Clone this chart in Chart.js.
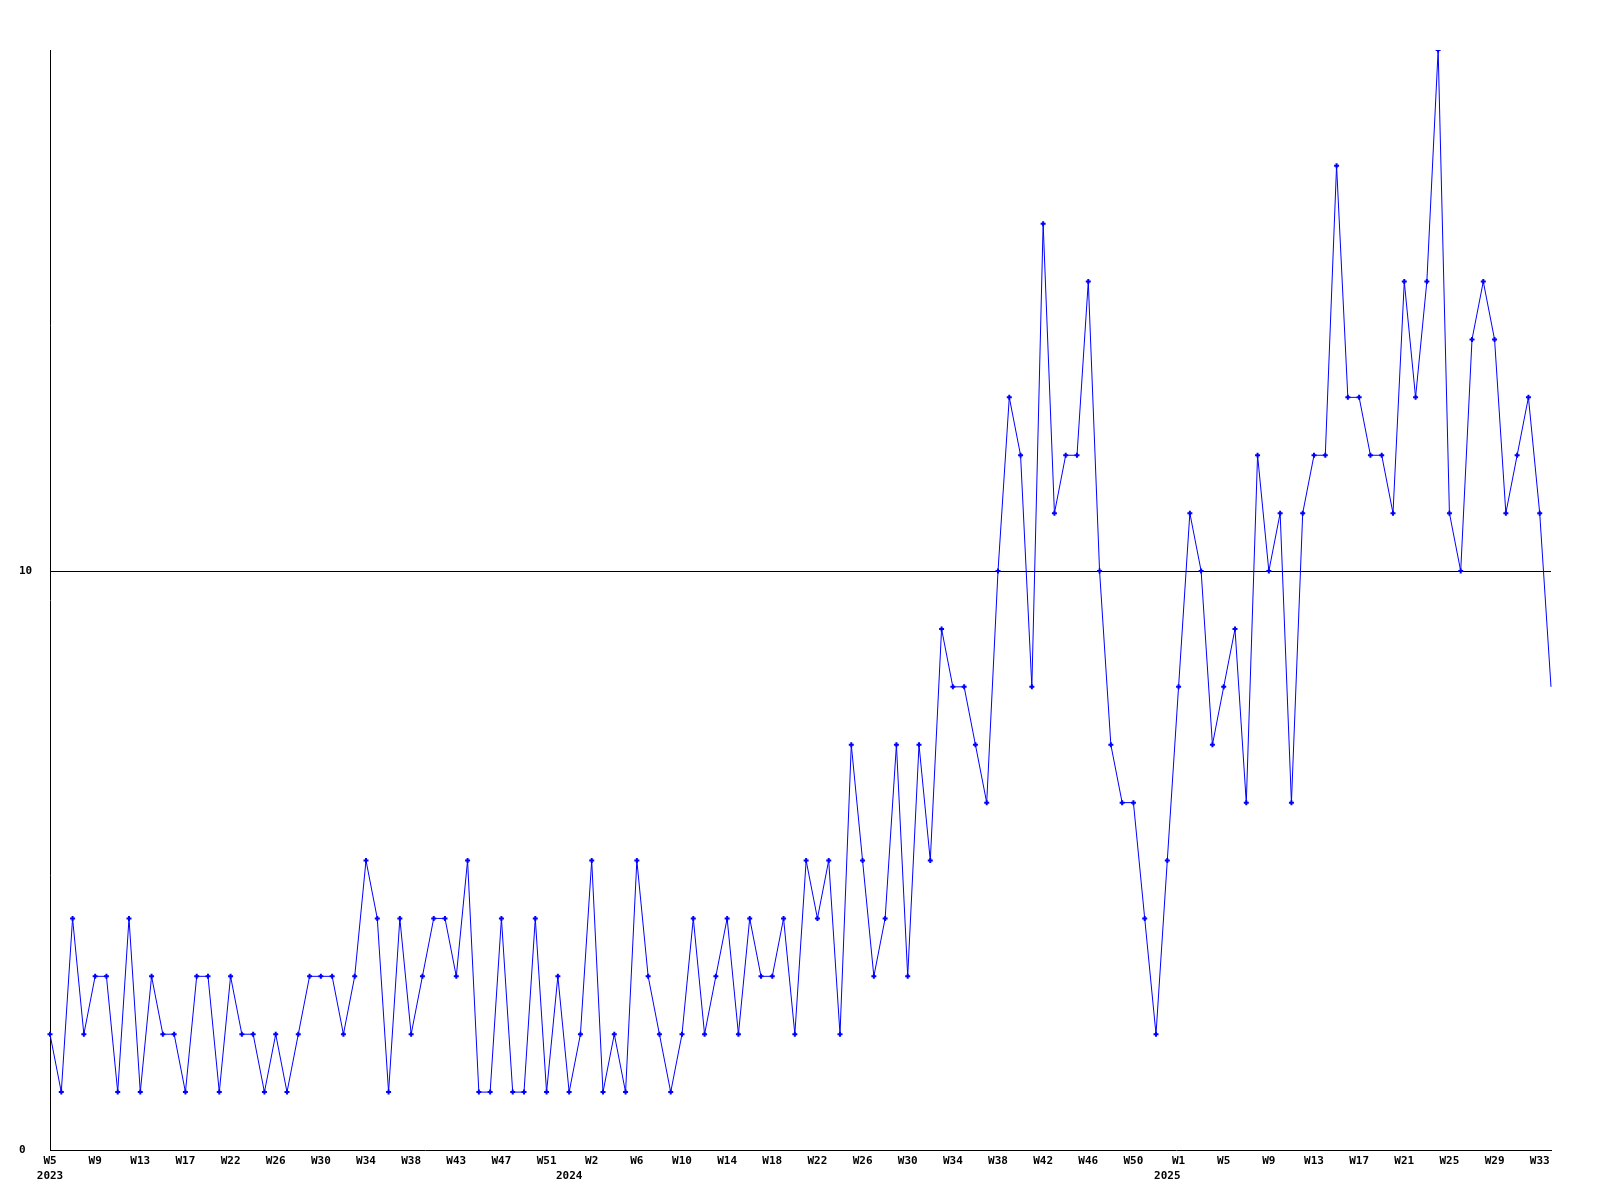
<!DOCTYPE html>
<html>
<head>
<meta charset="utf-8">
<script src="https://cdn.jsdelivr.net/npm/chart.js@4.4.1/dist/chart.umd.min.js"></script>
<style>
  html, body { margin: 0; padding: 0; background: #ffffff; }
  #wrap { width: 1600px; height: 1200px; }
</style>
</head>
<body>
<div id="wrap"><canvas id="c" width="1600" height="1200"></canvas></div>
<script>
// ---- data ----
const values = [
  2,1,4,2,3,3,1,4,1,3,
  2,2,1,3,3,1,3,2,2,1,
  2,1,2,3,3,3,2,3,5,4,
  1,4,2,3,4,4,3,5,1,1,
  4,1,1,4,1,3,1,2,5,1,
  2,1,5,3,2,1,2,4,2,3,
  4,2,4,3,3,4,2,5,4,5,
  2,7,5,3,4,7,3,7,5,9,
  8,8,7,6,10,13,12,8,16,11,
  12,12,15,10,7,6,6,4,2,5,
  8,11,10,7,8,9,6,12,10,11,
  6,11,12,12,17,13,13,12,12,11,
  15,13,15,19,11,10,14,15,14,11,
  12,13,11,8
];

// week tick labels, one every 4 weekly points
const weekTicks = [
  'W5','W9','W13','W17','W22','W26','W30','W34','W38','W43','W47','W51',
  'W2','W6','W10','W14','W18','W22','W26','W30','W34','W38','W42','W46','W50',
  'W1','W5','W9','W13','W17','W21','W25','W29','W33'
];
// year labels and the point index where each year starts
const years = ['2023', '2024', '2025'];
const yearStart = [0, 46, 99];

const categories = values.map((v, i) => {
  const week = (i % 4 === 0 && weekTicks[i / 4]) ? weekTicks[i / 4] : '';
  const yi = yearStart.indexOf(i);
  return yi >= 0 ? [week, years[yi]] : week;
});

const tickFont = { family: '"DejaVu Sans Mono", "Liberation Mono", monospace', size: 11, weight: 'bold', lineHeight: '15px' };

new Chart(document.getElementById('c'), {
  type: 'line',
  data: {
    labels: categories,
    datasets: [{
      data: values,
      borderColor: '#0000ff',
      backgroundColor: '#0000ff',
      borderWidth: 1,
      tension: 0,
      fill: false,
      pointStyle: 'cross',
      pointRadius: (ctx) => ctx.dataIndex === values.length - 1 ? 0 : 2.5,
      pointBorderWidth: 2,
      pointBorderColor: '#0000ff',
      pointHoverRadius: 2.5
    }]
  },
  options: {
    responsive: false,
    animation: false,
    devicePixelRatio: 1,
    layout: { padding: { top: 50, right: 49, left: 19, bottom: 0 } },
    plugins: { legend: { display: false }, tooltip: { enabled: false } },
    scales: {
      x: {
        type: 'category',
        offset: false,
        grid: { display: false, drawTicks: false },
        border: { display: true, color: '#000000', width: 1 },
        ticks: {
          autoSkip: false,
          maxRotation: 0,
          minRotation: 0,
          padding: 4,
          color: '#000000',
          font: tickFont
        },
        afterFit: (s) => { s.height = 50; }
      },
      y: {
        min: 0,
        max: 19,
        grid: {
          drawTicks: false,
          color: (ctx) => (ctx.tick && ctx.tick.value === 10) ? '#000000' : 'rgba(0,0,0,0)',
          lineWidth: 1
        },
        border: { display: true, color: '#000000', width: 1 },
        ticks: {
          stepSize: 10,
          includeBounds: false,
          crossAlign: 'far',
          padding: 0,
          color: '#000000',
          font: tickFont
        },
        afterFit: (s) => { s.width = 31; }
      }
    }
  }
});
</script>
</body>
</html>
